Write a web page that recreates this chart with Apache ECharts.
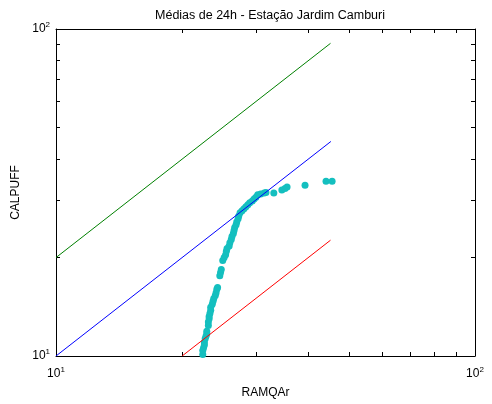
<!DOCTYPE html>
<html><head><meta charset="utf-8">
<script src="https://cdn.jsdelivr.net/npm/echarts@6/dist/echarts.min.js"></script>
<style>html,body{margin:0;padding:0;background:#fff}#c{width:492px;height:404px}</style>
</head><body><div id="c"></div>
<script>
const titleText = 'Médias de 24h - Estação Jardim Camburi';
const xName = 'RAMQAr';
const yName = 'CALPUFF';
const tickValues = [10, 20, 30, 40, 50, 60, 70, 80, 90, 100];
const labelValues = [10, 100];
const lineDouble = [[10, 20], [45.2, 90.4]];
const lineEqual = [[10, 10], [45.3, 45.3]];
const lineHalf = [[20, 10], [45.2, 22.6]];
const pointsX = [22.4,22.4,22.5,22.6,22.6,22.7,22.8,22.9,22.9,
  23.1,23.1,23.2,23.2,23.3,23.4,23.4,23.6,23.7,23.8,24.0,24.1,24.2,24.3,
  24.6,24.7,24.8,
  25.0,25.2,25.4,25.5,25.6,25.9,26.0,26.2,26.3,26.5,26.6,26.7,26.9,27.0,27.2,27.3,27.5,27.8,28.1,28.4,28.7,29.0,29.4,29.7,30.0,30.3,30.8,31.4,31.7,
  33.1,34.6,35.2,35.6,39.3,44.1,45.6];
const pointsY = [10.1,10.4,10.6,10.8,11.0,11.3,11.5,11.7,11.9,
  12.4,12.7,13.0,13.2,13.5,13.8,14.1,14.4,14.7,15.0,15.3,15.6,16.0,16.2,
  17.6,18.0,18.4,
  19.6,20.0,20.4,20.9,21.3,21.7,22.2,22.7,23.2,23.7,24.2,24.7,25.2,25.7,26.3,26.8,27.4,27.8,28.2,28.6,29.0,29.4,29.8,30.2,30.6,31.1,31.3,31.5,31.6,
  31.5,32.2,32.5,32.9,33.3,34.2,34.2];

const FONT = 'Liberation Sans, Arial, sans-serif';
const points = pointsX.map((x, i) => [x, pointsY[i]]);

function sup(v) {
  return '{b|10}{s|' + Math.round(Math.log10(v)) + '}';
}
const rich = {
  b: {fontSize: 12, color: '#000', fontFamily: FONT, lineHeight: 16},
  s: {fontSize: 8, color: '#000', fontFamily: FONT, verticalAlign: 'top', lineHeight: 10}
};
function makeAxis(pos, showLabel, margin, extra) {
  return Object.assign({
    type: 'log', logBase: 10, min: 10, max: 100, position: pos,
    axisLine: {show: true, onZero: false, lineStyle: {color: '#000', width: 1}},
    axisTick: {show: true, inside: true, length: 4, customValues: tickValues, lineStyle: {color: '#000', width: 1}},
    axisLabel: {show: showLabel, customValues: labelValues, formatter: sup, rich: rich, margin: margin},
    splitLine: {show: false},
    minorTick: {show: false}
  }, extra || {});
}

const chart = echarts.init(document.getElementById('c'), null, {renderer: 'canvas'});
chart.setOption({
  backgroundColor: '#fff',
  animation: false,
  title: {text: titleText, left: 265, top: 4, textAlign: 'center',
    textStyle: {fontSize: 12.5, fontWeight: 'normal', color: '#000', fontFamily: FONT}},
  grid: {left: 56, right: 17, top: 29, bottom: 46, containLabel: false},
  xAxis: [
    makeAxis('bottom', true, 10, {name: xName, nameLocation: 'middle', nameGap: 31,
      nameTextStyle: {fontSize: 12, color: '#000', fontFamily: FONT}}),
    makeAxis('top', false, 8)
  ],
  yAxis: [
    makeAxis('left', true, 6, {name: yName, nameLocation: 'middle', nameGap: 34,
      nameTextStyle: {fontSize: 12, color: '#000', fontFamily: FONT}}),
    makeAxis('right', false, 8)
  ],
  series: [
    {type: 'line', data: lineDouble, symbol: 'none', lineStyle: {color: '#008000', width: 1}, xAxisIndex: 0, yAxisIndex: 0},
    {type: 'line', data: lineEqual, symbol: 'none', lineStyle: {color: '#0000ff', width: 1}, xAxisIndex: 0, yAxisIndex: 0},
    {type: 'line', data: lineHalf, symbol: 'none', lineStyle: {color: '#ff0000', width: 1}, xAxisIndex: 0, yAxisIndex: 0},
    {type: 'scatter', data: points, symbol: 'circle', symbolSize: 7, itemStyle: {color: '#14bfbf', opacity: 1}, xAxisIndex: 0, yAxisIndex: 0}
  ]
});
</script>
</body></html>
